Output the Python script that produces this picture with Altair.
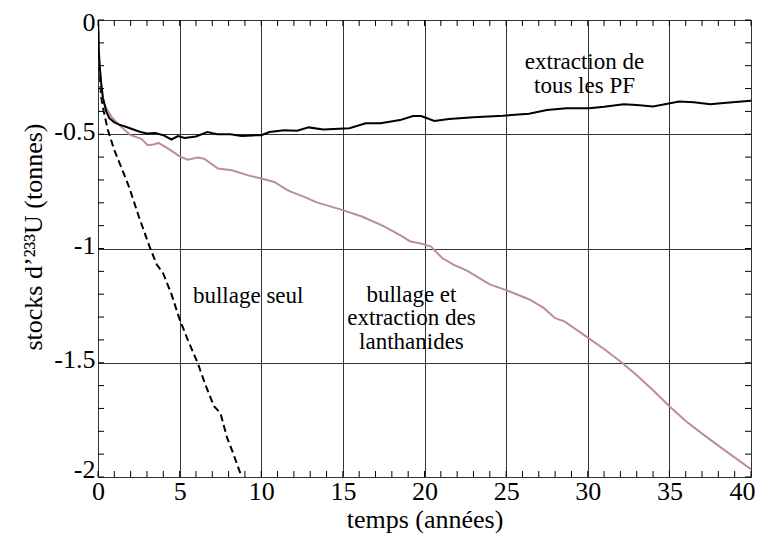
import altair as alt
import numpy as np
import pandas as pd

# ---- data ----
pf_t = [0, 0.05, 0.1, 0.2, 0.3, 0.5, 0.7, 1.0, 1.3, 1.7, 2.0, 2.6, 3.0, 3.5, 4.0, 4.5, 4.9, 5.3, 6.0, 6.7,
        7.3, 8.1, 8.8, 9.5, 10.0, 10.5, 11.4, 12.2, 12.9, 13.8, 15.4, 16.4, 17.3, 18.5, 19.3, 19.8, 20.6,
        21.5, 23.0, 24.8, 26.4, 27.5, 28.7, 30.1, 31.0, 32.2, 33.0, 34.0, 35.6, 36.5, 37.5, 38.5, 40.0]
pf_v = [0, -0.14, -0.2, -0.28, -0.34, -0.4, -0.43, -0.448, -0.458, -0.467, -0.475, -0.49, -0.497, -0.495,
        -0.504, -0.523, -0.508, -0.516, -0.51, -0.49, -0.5, -0.5, -0.508, -0.505, -0.504, -0.49, -0.482,
        -0.485, -0.47, -0.479, -0.474, -0.452, -0.452, -0.438, -0.42, -0.42, -0.442, -0.433, -0.426, -0.419,
        -0.41, -0.394, -0.386, -0.386, -0.38, -0.369, -0.372, -0.379, -0.357, -0.36, -0.369, -0.362, -0.353]

ln_t = [0, 0.05, 0.1, 0.2, 0.3, 0.5, 0.85, 1.45, 2.0, 2.65, 3.05, 3.4, 3.7, 4.3, 5.0, 5.5, 6.1, 6.5, 7.35,
        8.2, 9.2, 10.0, 10.8, 11.5, 11.8, 12.6, 13.4, 15.0, 16.2, 17.5, 18.5, 19.1, 19.9, 20.4, 21.1, 21.8,
        22.6, 24.0, 25.0, 26.4, 27.3, 28.0, 28.6, 30.0, 31.0, 32.1, 33.0, 34.0, 35.0, 36.0, 37.0, 38.5, 40.0]
ln_v = [0, -0.12, -0.2, -0.29, -0.345, -0.385, -0.426, -0.47, -0.504, -0.52, -0.548, -0.545, -0.538,
        -0.563, -0.597, -0.611, -0.602, -0.607, -0.65, -0.658, -0.68, -0.694, -0.709, -0.74, -0.751, -0.773,
        -0.798, -0.832, -0.861, -0.902, -0.941, -0.968, -0.98, -0.992, -1.043, -1.072, -1.097, -1.157,
        -1.182, -1.222, -1.26, -1.305, -1.32, -1.39, -1.44, -1.5, -1.555, -1.62, -1.69, -1.755, -1.81,
        -1.889, -1.966]

bs_t = [0, 0.05, 0.18, 0.35, 0.6, 1.0, 1.5, 1.9, 2.5, 3.2, 3.6, 4.0, 4.5, 5.0, 5.5, 6.1, 6.6, 7.1, 7.5,
        7.9, 8.3, 8.8]
bs_v = [0, -0.17, -0.33, -0.4, -0.48, -0.57, -0.658, -0.73, -0.86, -1.0, -1.07, -1.11, -1.2, -1.31, -1.4,
        -1.5, -1.6, -1.69, -1.72, -1.827, -1.9, -2.0]

ann_text = ["extraction de", "tous les PF", "bullage seul", "bullage et", "extraction des", "lanthanides"]
ann_t = [29.8, 29.8, 9.2, 19.2, 19.2, 19.2]
ann_v = [-0.184, -0.289, -1.208, -1.204, -1.306, -1.409]

x_major = [0, 5, 10, 15, 20, 25, 30, 35, 40]
y_major = [0, -0.5, -1, -1.5, -2]

W, H = 653, 457
FONT = "Liberation Serif"
FS = 26

xs = alt.Scale(domain=[0, 40], nice=False, zero=False)
ys = alt.Scale(domain=[-2, 0], nice=False, zero=False)

x_axis = alt.Axis(values=x_major, grid=True, gridColor="#333", gridWidth=1, ticks=False, tickSize=0,
                  domain=False, labelFont=FONT, labelFontSize=FS, labelColor="black", labelFlush=False,
                  labelPadding=1, labelOverlap=False,
                  labelAlign={"condition": {"test": "datum.value == 40", "value": "right"}, "value": "center"},
                  labelOffset={"condition": {"test": "datum.value == 40", "value": 4}, "value": 0},
                  title="temps (années)", titleFont=FONT,
                  titleFontSize=FS, titleFontWeight="normal", titleColor="black",
                  titleY=50, titleBaseline="alphabetic")
y_axis = alt.Axis(values=y_major, grid=True, gridColor="#333", gridWidth=1, ticks=False, tickSize=0,
                  domain=False, labelFont=FONT, labelFontSize=FS, labelColor="black", labelFlush=False,
                  labelPadding=3, labelOverlap=False, labelExpr="toString(datum.value)",
                  labelOffset={"condition": [{"test": "datum.value == 0", "value": 2},
                                             {"test": "datum.value == -2", "value": -8}], "value": -3},
                  title="stocks d’²³³U (tonnes)", titleFont=FONT, titleFontSize=FS,
                  titleFontWeight="normal", titleColor="black", titleAngle=-90,
                  titleX=-57, titleY=H / 2 - 12, titleAlign="center", titleBaseline="alphabetic")


def X(f):
    return alt.X(f, scale=xs, axis=x_axis)


def Y(f):
    return alt.Y(f, scale=ys, axis=y_axis)


curves = pd.concat([
    pd.DataFrame({"t": pf_t, "v": pf_v, "s": "pf"}),
    pd.DataFrame({"t": ln_t, "v": ln_v, "s": "ln"}),
    pd.DataFrame({"t": bs_t, "v": bs_v, "s": "bs"}),
])


def curve(key, color, dash=None):
    kw = dict(color=color, strokeWidth=2, clip=True)
    if dash:
        kw["strokeDash"] = dash
    return alt.Chart(curves[curves.s == key]).mark_line(**kw).encode(
        x=X("t:Q"), y=Y("v:Q"), order="t:Q")


xt = pd.DataFrame({"t": np.arange(0, 41, 1)})
yt = pd.DataFrame({"v": np.round(np.arange(-2, 0.001, 0.1), 2)})
TL = 6
xtick_bot = alt.Chart(xt).mark_rule(color="black", strokeWidth=1).encode(
    x=X("t:Q"), y=alt.value(H), y2=alt.value(H - TL))
xtick_top = alt.Chart(xt).mark_rule(color="black", strokeWidth=1).encode(
    x=X("t:Q"), y=alt.value(0), y2=alt.value(TL))
ytick_l = alt.Chart(yt).mark_rule(color="black", strokeWidth=1).encode(
    y=Y("v:Q"), x=alt.value(0), x2=alt.value(TL))
ytick_r = alt.Chart(yt).mark_rule(color="black", strokeWidth=1).encode(
    y=Y("v:Q"), x=alt.value(W - TL), x2=alt.value(W))

ann = alt.Chart(pd.DataFrame({"t": ann_t, "v": ann_v, "txt": ann_text})).mark_text(
    font=FONT, fontSize=23, color="black", align="center", baseline="middle").encode(
    x=X("t:Q"), y=Y("v:Q"), text="txt:N")

chart = alt.layer(
    curve("bs", "black", [7, 4]), curve("ln", "#bc8f8f"), curve("pf", "black"),
    xtick_bot, xtick_top, ytick_l, ytick_r, ann,
).properties(
    width=W, height=H,
    autosize=alt.AutoSizeParams(type="none"),
    padding={"left": 90, "top": 12, "right": 4, "bottom": 56},
).configure_view(stroke="black", strokeWidth=2).configure(background="white")

chart.save("out.html", embed_options={"renderer": "svg", "actions": False})
